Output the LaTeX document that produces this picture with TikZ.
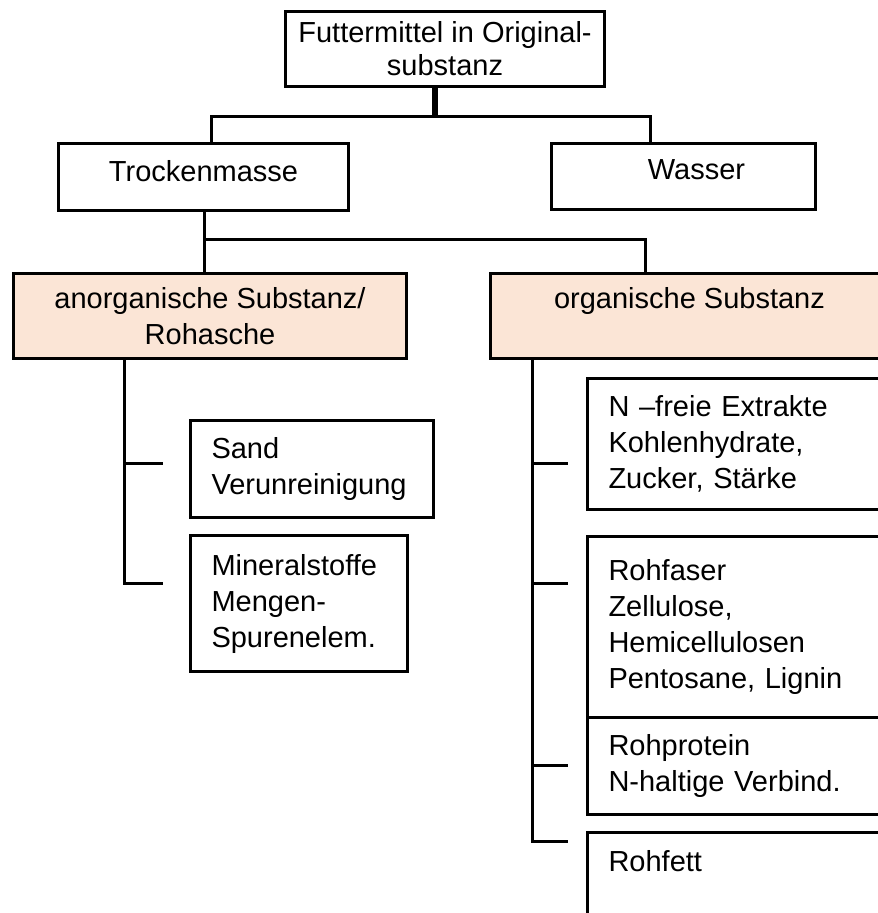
\documentclass[tikz,border=0pt]{standalone}
\usepackage{fontspec}
\setmainfont{Liberation Sans}
\usepackage{tikz}
\usetikzlibrary{positioning}
\definecolor{peach}{HTML}{FBE5D6}

\begin{document}
\begin{tikzpicture}[
x=1pt,y=-1pt,
font=\fontsize{29}{36}\selectfont,
box/.style={draw,line width=3pt,align=center,inner sep=0pt},
leftbox/.style={draw,line width=3pt,align=left,inner xsep=21pt,inner ysep=0pt,anchor=north west},
link/.style={line width=3pt},
stem/.style={line width=6pt}]
    % Frame
    \useasboundingbox (0,0) rectangle (878,913);

    % Upper boxes
    \node[box,minimum width=319pt,minimum height=75pt,font=\fontsize{29}{33}\selectfont] (futter) at (445,49) {Futtermittel in Original-\\substanz};
    \node[box,minimum width=290pt,minimum height=67pt,text depth=13pt] (trocken) at (203.5,177) {Trockenmasse};
    \node[box,minimum width=264pt,minimum height=66pt,text depth=13pt] (wasser) at (683.5,176.5) {\hspace*{26pt}Wasser};
    \node[box,fill=peach,minimum width=393pt,minimum height=85pt] (anorg) at (210,316) {anorganische Substanz/\\Rohasche};
    \node[box,fill=peach,minimum width=398pt,minimum height=85pt] (organ) at (689.5,316) {organische Substanz\\~};

    % Lower boxes
    \node[leftbox,text width=201pt,minimum height=97pt] (sand) at (189,419) {Sand\\Verunreinigung};
    \node[leftbox,text width=175pt,minimum height=136pt] (mineral) at (189,534) {Mineralstoffe\\Mengen-\\Spurenelem.};
    \node[leftbox,text width=262pt,minimum height=131pt] (nfrei) at (586,377) {N --freie Extrakte\\Kohlenhydrate,\\Zucker, St\"arke};
    \node[leftbox,text width=262pt,minimum height=181pt] (faser) at (586,535) {Rohfaser\\Zellulose,\\Hemicellulosen\\Pentosane, Lignin};
    \node[leftbox,text width=262pt,minimum height=97pt] (protein) at (586,716) {Rohprotein\\N-haltige Verbind.};
    \node[leftbox,text width=262pt,minimum height=164pt] (fett) at (586,831) {Rohfett\\~\\~\\~};

    % Forks
    \coordinate (fork1) at (435,116);
    \coordinate (fork2) at (204,239);
    \draw[stem] (futter.south -| fork1) -- (fork1);
    \draw[link] ([xshift=8pt]trocken.north) |- (fork1) -| ([xshift=-33pt]wasser.north);
    \draw[link] (trocken.south -| fork2) -- (fork2) -| ([xshift=-44pt]organ.north);
    \draw[link] (fork2) -- ([xshift=-6pt]anorg.north);

    % Brackets
    \coordinate (abar) at (124,583);
    \coordinate (a1) at (163,463);
    \coordinate (a2) at (163,583);
    \draw[link] (anorg.south -| abar) -- (abar) -- (a2);
    \draw[link] (abar |- a1) -- (a1);

    \coordinate (obar) at (532,841);
    \coordinate (o1) at (568,463);
    \coordinate (o2) at (568,583);
    \coordinate (o3) at (568,765);
    \coordinate (o4) at (568,841);
    \draw[link] (organ.south -| obar) -- (obar) -- (o4);
    \foreach \t in {o1,o2,o3}
        \draw[link] (obar |- \t) -- (\t);

\end{tikzpicture}
\end{document}
